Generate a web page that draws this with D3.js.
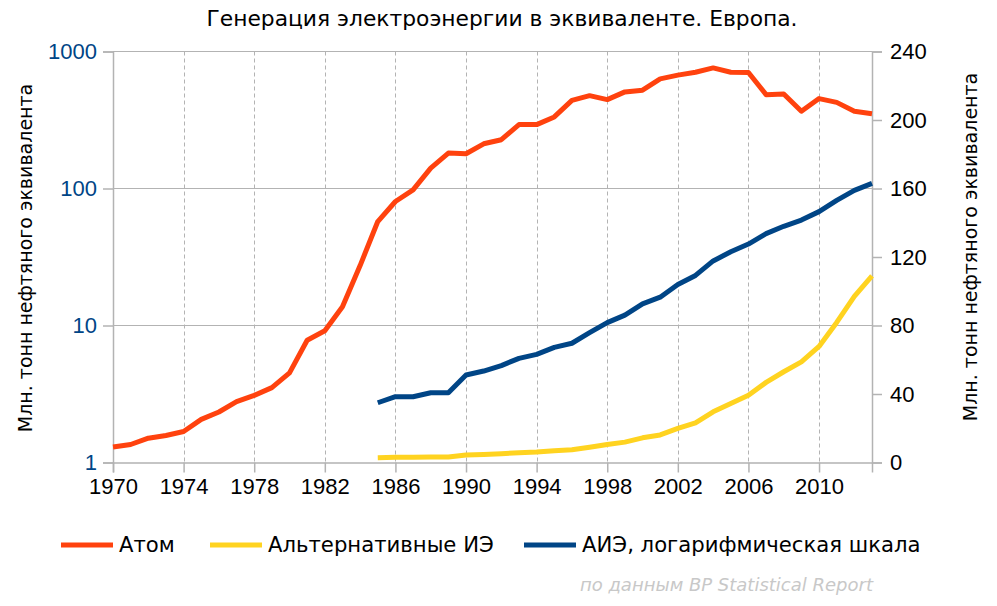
<!DOCTYPE html>
<html>
<head>
<meta charset="utf-8">
<script src="https://cdn.jsdelivr.net/npm/d3@7"></script>
<style>
  html, body { margin: 0; padding: 0; background: #fff; }
  svg { display: block; }
</style>
</head>
<body>
<svg id="chart" width="997" height="606"></svg>
<script>
// ---- Data ----
const title = "Генерация электроэнергии в эквиваленте. Европа.";
const axisTitle = "Млн. тонн нефтяного эквивалента";
const sourceNote = "по данным BP Statistical Report";

const nuclearYears = d3.range(1970, 2014);
const nuclearValues = [
  9.0, 10.5, 14.2, 15.8, 18.1, 25.2, 29.5, 35.5, 39.2, 43.7,
  52.3, 71.4, 76.9, 90.9, 115, 140.7, 152.4, 159.2, 171.9, 180.7,
  180.3, 186.1, 188.5, 197.3, 197.3, 201.8, 211.5, 214.2, 211.9, 216.4,
  217.4, 224.0, 226.2, 227.9, 230.4, 227.9, 227.7, 214.8, 215.2, 205.1,
  212.5, 210.3, 205.1, 203.7
];

const renewYears = d3.range(1985, 2014);
const renewValues = [
  2.73, 3.02, 3.02, 3.23, 3.23, 4.35, 4.65, 5.1, 5.76, 6.16,
  6.93, 7.42, 8.86, 10.5, 11.9, 14.4, 16.1, 19.9, 23.2, 29.6,
  34.5, 39.3, 46.8, 53.0, 58.8, 67.8, 81.8, 97.0, 109.0
];

const xTicks = d3.range(1970, 2011, 4);
const leftTicks = [1, 10, 100, 1000];
const rightTicks = [0, 40, 80, 120, 160, 200, 240];

const seriesNames = ["Атом", "Альтернативные ИЭ", "АИЭ, логарифмическая шкала"];
const seriesColors = ["#ff420e", "#ffd320", "#004586"];

// ---- Layout ----
const svg = d3.select("#chart");
const pLeft = 113, pRight = 872, pTop = 51.5, pBottom = 462.5;
const gridColor = "#b3b3b3";
const numFont = "'Liberation Sans', Arial, sans-serif";
const textFont = "'DejaVu Sans', sans-serif";

const x = d3.scaleLinear().domain([1970, 2013]).range([pLeft, pRight]);
const yLog = d3.scaleLog().domain([1, 1000]).range([pBottom, pTop]);
const yLin = d3.scaleLinear().domain([0, 240]).range([pBottom, pTop]);

// vertical dashed grid
svg.append("g").selectAll("line")
  .data(xTicks.filter(d => d !== 1970))
  .join("line")
  .attr("x1", d => Math.round(x(d)) + 0.5).attr("x2", d => Math.round(x(d)) + 0.5)
  .attr("y1", pTop).attr("y2", pBottom)
  .attr("stroke", gridColor).attr("stroke-width", 1)
  .attr("stroke-dasharray", "4,3");

// horizontal grid (log decades)
svg.append("g").selectAll("line")
  .data(leftTicks.filter(d => d !== 1))
  .join("line")
  .attr("x1", pLeft).attr("x2", pRight)
  .attr("y1", d => yLog(d)).attr("y2", d => yLog(d))
  .attr("stroke", gridColor).attr("stroke-width", 1);

// axes
const xAxis = d3.axisBottom(x).tickValues(xTicks).tickFormat(d3.format("d")).tickSizeOuter(0).tickSize(10).tickPadding(6);
const gx = svg.append("g").attr("transform", `translate(0,${pBottom})`).call(xAxis);
gx.select(".domain").attr("stroke", gridColor).attr("stroke-width", 1.5);
gx.selectAll(".tick line").attr("stroke", gridColor).attr("stroke-width", 1.5);
gx.selectAll("text").attr("font-family", numFont).attr("font-size", 22).attr("fill", "#000");

const yAxisL = d3.axisLeft(yLog).tickValues(leftTicks).tickFormat(d3.format("d")).tickSizeOuter(0).tickSize(10).tickPadding(6);
const gl = svg.append("g").attr("transform", `translate(${pLeft},0)`).call(yAxisL);
gl.select(".domain").attr("stroke", gridColor).attr("stroke-width", 1.5);
gl.selectAll(".tick line").attr("stroke", gridColor).attr("stroke-width", 1.5);
gl.selectAll("text").attr("font-family", numFont).attr("font-size", 22).attr("fill", "#004586");

const yAxisR = d3.axisRight(yLin).tickValues(rightTicks).tickFormat(d3.format("d")).tickSizeOuter(0).tickSize(10).tickPadding(8);
const gr = svg.append("g").attr("transform", `translate(${pRight},0)`).call(yAxisR);
gr.select(".domain").attr("stroke", gridColor).attr("stroke-width", 1.5);
gr.selectAll(".tick line").attr("stroke", gridColor).attr("stroke-width", 1.5);
gr.selectAll("text").attr("font-family", numFont).attr("font-size", 22).attr("fill", "#000");

// lines
const nuclear = nuclearYears.map((yr, i) => ({ yr, v: nuclearValues[i] }));
const renew = renewYears.map((yr, i) => ({ yr, v: renewValues[i] }));

const lineLin = d3.line().x(d => x(d.yr)).y(d => yLin(d.v));
const lineLog = d3.line().x(d => x(d.yr)).y(d => yLog(d.v));

svg.append("path").datum(renew).attr("d", lineLin)
  .attr("fill", "none").attr("stroke", seriesColors[1]).attr("stroke-width", 5).attr("stroke-linejoin", "round");
svg.append("path").datum(renew).attr("d", lineLog)
  .attr("fill", "none").attr("stroke", seriesColors[2]).attr("stroke-width", 5).attr("stroke-linejoin", "round");
svg.append("path").datum(nuclear).attr("d", lineLin)
  .attr("fill", "none").attr("stroke", seriesColors[0]).attr("stroke-width", 5).attr("stroke-linejoin", "round");

// title
svg.append("text").attr("x", 502).attr("y", 26).attr("text-anchor", "middle")
  .attr("font-family", textFont).attr("font-size", 21.8).attr("fill", "#000").text(title);

// axis titles
svg.append("text").attr("transform", "translate(32,258) rotate(-90)").attr("text-anchor", "middle")
  .attr("font-family", textFont).attr("font-size", 19).attr("fill", "#000").text(axisTitle);
svg.append("text").attr("transform", "translate(977,247) rotate(-90)").attr("text-anchor", "middle")
  .attr("font-family", textFont).attr("font-size", 19).attr("fill", "#000").text(axisTitle);

// legend
const legendX = [61, 210, 524];
const lg = svg.append("g").selectAll("g").data(seriesNames).join("g")
  .attr("transform", (d, i) => `translate(${legendX[i]},545)`);
lg.append("line").attr("x1", 0).attr("x2", 52).attr("y1", 0).attr("y2", 0)
  .attr("stroke", (d, i) => seriesColors[i]).attr("stroke-width", 5);
lg.append("text").attr("x", 58).attr("y", 0).attr("dy", "0.35em")
  .attr("font-family", textFont).attr("font-size", 21.2).attr("fill", "#000").text(d => d);

// source note
svg.append("text").attr("x", 873).attr("y", 591).attr("text-anchor", "end")
  .attr("font-family", textFont).attr("font-style", "italic").attr("font-size", 18)
  .attr("fill", "#c8c8c8").text(sourceNote);
</script>
</body>
</html>
